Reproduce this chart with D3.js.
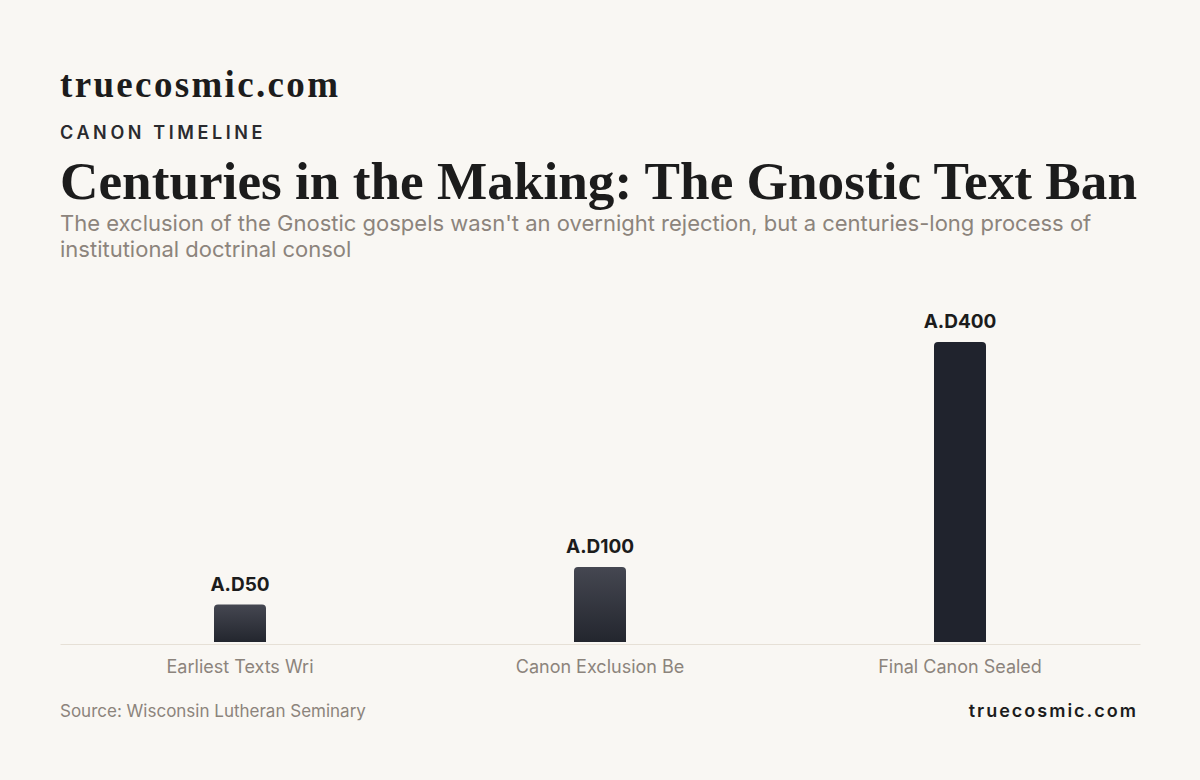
<!DOCTYPE html>
<html><head><meta charset="utf-8">
<script src="https://cdn.jsdelivr.net/npm/d3@7"></script>
<style>body{margin:0;background:#f9f7f3;}svg{display:block;font-family:Inter,sans-serif;}</style>
</head><body><svg id="c" width="1200" height="780"></svg>
<script>
const categories = ["Earliest Texts Wri", "Canon Exclusion Be", "Final Canon Sealed"];
const values = [50, 100, 400];
const labels = ["A.D50", "A.D100", "A.D400"];

const svg = d3.select("#c");
svg.append("rect").attr("width",1200).attr("height",780).attr("fill","#f9f7f3");
const defs = svg.append("defs");
const g1 = defs.append("linearGradient").attr("id","gr").attr("x1",0).attr("y1",0).attr("x2",0).attr("y2",1);
g1.append("stop").attr("offset","0%").attr("stop-color","#454751");
g1.append("stop").attr("offset","100%").attr("stop-color","#23262e");

svg.append("text").attr("x",60).attr("y",97).attr("font-family","'Liberation Serif',serif").attr("font-weight",700).attr("font-size",37).attr("fill","#1c1c1c").attr("textLength",278).attr("lengthAdjust","spacing").text("truecosmic.com");
svg.append("text").attr("x",60).attr("y",139).attr("font-weight",600).attr("font-size",18).attr("letter-spacing",3.6).attr("fill","#2a2a2e").text("CANON TIMELINE");
svg.append("text").attr("x",60).attr("y",199).attr("font-family","'Liberation Serif',serif").attr("font-weight",700).attr("font-size",53).attr("fill","#1c1c1c").attr("textLength",1077).attr("lengthAdjust","spacingAndGlyphs").text("Centuries in the Making: The Gnostic Text Ban");
svg.append("text").attr("x",60).attr("y",231).attr("font-size",22).attr("fill","#8c847c").text("The exclusion of the Gnostic gospels wasn't an overnight rejection, but a centuries-long process of");
svg.append("text").attr("x",60).attr("y",257).attr("font-size",22).attr("fill","#8c847c").text("institutional doctrinal consol");

const x = d3.scaleBand().domain(categories).range([60,1140]);
const y = d3.scaleLinear().domain([0,400]).range([642,342]);
const bw = 52, r = 4;
const bars = svg.append("g");
categories.forEach((c,i)=>{
  const cx = x(c)+x.bandwidth()/2, x0=cx-bw/2, y0=y(values[i]), y1=y(0);
  bars.append("path").attr("d",`M${x0},${y1}V${y0+r}Q${x0},${y0} ${x0+r},${y0}H${x0+bw-r}Q${x0+bw},${y0} ${x0+bw},${y0+r}V${y1}Z`)
    .attr("fill", i===2 ? "#20232d" : "url(#gr)");
  svg.append("text").attr("x",cx).attr("y",y0-14).attr("text-anchor","middle").attr("font-weight",700).attr("font-size",19).attr("fill","#1c1c1c").text(labels[i]);
});
const ax = svg.append("g").attr("transform","translate(0,644)").call(d3.axisBottom(x).tickSize(0).tickPadding(16));
ax.select(".domain").attr("stroke","#e6e0d6");
ax.selectAll("text").attr("font-family","Inter,sans-serif").attr("font-size",18).attr("fill","#8c847c");

svg.append("text").attr("x",60).attr("y",717).attr("font-size",17).attr("fill","#8c847c").text("Source: Wisconsin Lutheran Seminary");
svg.append("text").attr("x",1138).attr("y",717).attr("text-anchor","end").attr("font-weight",600).attr("font-size",18).attr("letter-spacing",2).attr("fill","#1c1c1c").text("truecosmic.com");
</script></body></html>
